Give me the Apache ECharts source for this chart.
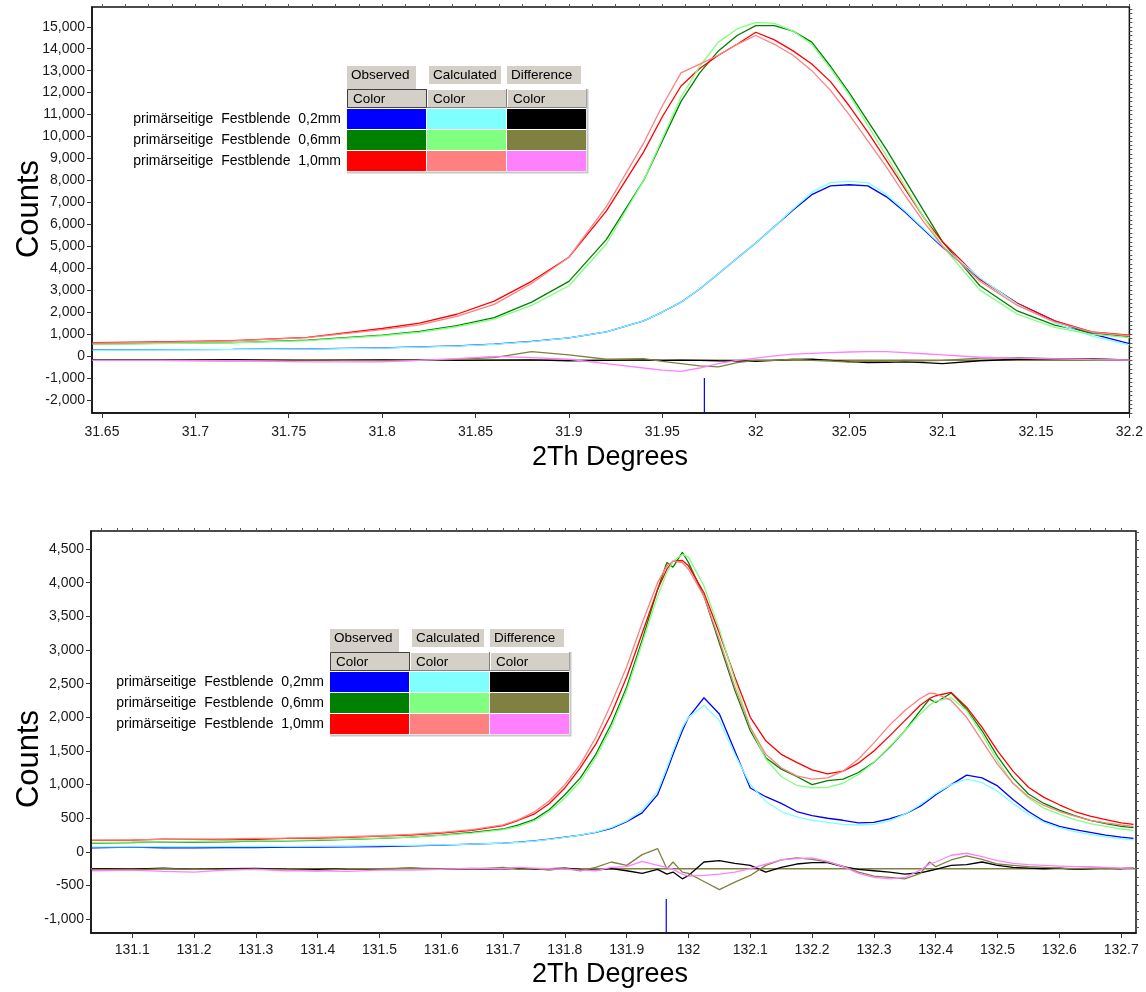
<!DOCTYPE html>
<html>
<head>
<meta charset="utf-8">
<script src="https://cdn.jsdelivr.net/npm/echarts@6/dist/echarts.min.js"></script>
<style>
  html, body { margin: 0; padding: 0; background: #ffffff; }
  #chart { width: 1146px; height: 992px; }
</style>
</head>
<body>
<div id="chart"></div>
<script>
// ---- legend table contents ----
const rowLabels = [
  'primärseitige  Festblende  0,2mm',
  'primärseitige  Festblende  0,6mm',
  'primärseitige  Festblende  1,0mm'
];
const columnHeaders = ['Observed', 'Calculated', 'Difference'];
const observedColors = ['#0000ff', '#008000', '#ff0000'];
const calculatedColors = ['#80ffff', '#80ff80', '#ff8080'];
const differenceColors = ['#000000', '#808040', '#ff80ff'];
const zeroLineColor = '#808040';
const peakMarkColor = '#0000ff';

// ---- upper panel: reflection near 32 deg 2Th ----
const topRange = { xMin: 31.6447, xMax: 32.2, yMin: -2600, yMax: 15900 };
const topXTicks = [31.65, 31.7, 31.75, 31.8, 31.85, 31.9, 31.95, 32, 32.05, 32.1, 32.15, 32.2];
const topYTicks = [-2000, -1000, 0, 1000, 2000, 3000, 4000, 5000, 6000, 7000, 8000, 9000, 10000, 11000, 12000, 13000, 14000, 15000];
const topX = [31.645, 31.68, 31.72, 31.76, 31.8, 31.82, 31.84, 31.86, 31.88, 31.9, 31.92, 31.94, 31.95, 31.96, 31.97, 31.98, 31.99, 32.0, 32.01, 32.02, 32.03, 32.04, 32.05, 32.06, 32.07, 32.08, 32.09, 32.1, 32.12, 32.14, 32.16, 32.18, 32.2];
const topObs02 = [280, 290, 300, 320, 370, 410, 460, 540, 660, 820, 1100, 1600, 2000, 2450, 3050, 3750, 4450, 5150, 5900, 6650, 7350, 7750, 7800, 7750, 7250, 6550, 5750, 4950, 3500, 2400, 1600, 1000, 560];
const topObs06 = [550, 570, 610, 720, 950, 1120, 1380, 1750, 2450, 3400, 5300, 8000, 9800, 11600, 12900, 13900, 14600, 15050, 15050, 14800, 14300, 13200, 12000, 10700, 9400, 8000, 6600, 5200, 3200, 2050, 1400, 1050, 880];
const topObs10 = [600, 640, 700, 850, 1250, 1500, 1900, 2500, 3400, 4500, 6600, 9300, 10900, 12300, 13100, 13700, 14200, 14750, 14400, 13900, 13300, 12500, 11400, 10200, 8900, 7600, 6300, 5200, 3500, 2400, 1600, 1100, 950];
const topCalc02 = [260, 270, 285, 310, 360, 400, 450, 530, 650, 820, 1100, 1600, 2000, 2450, 3050, 3750, 4450, 5150, 5900, 6700, 7450, 7900, 7950, 7900, 7350, 6600, 5800, 5000, 3550, 2350, 1500, 900, 500];
const topCalc06 = [540, 560, 600, 700, 920, 1080, 1330, 1680, 2300, 3200, 5100, 8000, 9900, 11800, 13200, 14300, 14900, 15200, 15150, 14800, 14200, 13100, 11900, 10500, 9100, 7700, 6300, 5000, 3000, 1900, 1300, 980, 830];
const topCalc10 = [580, 620, 690, 830, 1200, 1420, 1800, 2350, 3300, 4500, 6800, 9700, 11400, 12900, 13300, 13700, 14200, 14600, 14200, 13700, 13000, 12100, 11000, 9800, 8600, 7300, 6100, 5000, 3400, 2300, 1550, 1080, 920];
const topDiff02 = [-180, -180, -170, -190, -180, -190, -200, -190, -180, -220, -200, -180, -200, -190, -200, -220, -230, -250, -200, -160, -150, -200, -260, -300, -290, -270, -300, -350, -220, -150, -130, -140, -180];
const topDiff06 = [-200, -200, -220, -180, -220, -200, -150, -80, 200, 50, -150, -120, -250, -350, -450, -500, -300, -200, -200, -150, -200, -230, -280, -240, -250, -200, -220, -200, -100, -80, -120, -150, -180];
const topDiff10 = [-200, -200, -220, -270, -270, -200, -120, -20, -80, -150, -350, -550, -650, -700, -550, -350, -200, -100, 0, 80, 120, 150, 180, 200, 200, 150, 100, 50, -60, -100, -130, -170, -190];
const topZero = -200;
const topPeakPos = 31.9725;
const topPeakSpan = [-1000, -2600];

// ---- lower panel: doublet near 132 deg 2Th ----
const botRange = { xMin: 131.0333, xMax: 132.724, yMin: -1205, yMax: 4768 };
const botXTicks = [131.1, 131.2, 131.3, 131.4, 131.5, 131.6, 131.7, 131.8, 131.9, 132, 132.1, 132.2, 132.3, 132.4, 132.5, 132.6, 132.7];
const botYTicks = [-1000, -500, 0, 500, 1000, 1500, 2000, 2500, 3000, 3500, 4000, 4500];
const botX = [131.035, 131.1, 131.15, 131.2, 131.25, 131.3, 131.35, 131.4, 131.45, 131.5, 131.55, 131.6, 131.65, 131.7,
  131.725, 131.75, 131.775, 131.8, 131.825, 131.85, 131.875, 131.9, 131.925, 131.95,
  131.965, 131.975, 131.99, 132.0,
  132.025, 132.05, 132.075, 132.1, 132.125, 132.15, 132.175, 132.2, 132.225, 132.25, 132.275, 132.3, 132.325, 132.35, 132.375,
  132.39, 132.4,
  132.425, 132.45, 132.475, 132.5, 132.525, 132.55, 132.575, 132.6, 132.625, 132.65, 132.675, 132.7, 132.72];
const botObs02 = [60, 70, 60, 60, 65, 65, 70, 70, 75, 80, 90, 100, 115, 130,
  145, 165, 190, 220, 250, 290, 350, 450, 580, 850,
  1200, 1450, 1800, 2000,
  2290, 2050, 1500, 950, 820, 720, 600, 540, 500, 470, 430, 440, 490, 560, 680,
  780, 850,
  1000, 1140, 1100, 980, 780, 600, 460, 380, 330, 290, 250, 220, 200];
const botObs06 = [130, 140, 150, 145, 150, 160, 165, 170, 185, 200, 220, 250, 290, 340,
  400, 480, 630, 850, 1100, 1450, 1900, 2450, 3150, 3900,
  4300, 4230, 4450, 4300,
  3800, 3100, 2400, 1800, 1400, 1230, 1120, 1000, 1060, 1080, 1180, 1330, 1550, 1800, 2100,
  2270, 2220,
  2360, 2120, 1800, 1420, 1100, 860, 720, 620, 540, 470, 420, 380, 360];
const botObs10 = [170, 175, 190, 185, 180, 185, 200, 205, 215, 235, 250, 280, 320, 390,
  470, 560, 720, 950, 1250, 1600, 2050, 2600, 3250, 3900,
  4200, 4320, 4330, 4250,
  3850, 3250, 2600, 2000, 1650, 1450, 1330, 1220, 1160, 1200, 1320, 1500, 1720, 1950, 2180,
  2280, 2320,
  2370, 2150, 1850, 1500, 1200, 960, 810, 700, 600, 530, 480, 430, 410];
const botCalc02 = [75, 75, 78, 78, 80, 80, 82, 85, 88, 92, 98, 105, 115, 130,
  140, 160, 185, 215, 250, 295, 360, 460, 620, 900,
  1250, 1500, 1850, 2000,
  2180, 1950, 1450, 1000, 750, 600, 520, 470, 440, 410, 400, 410, 460, 560, 700,
  800, 870,
  1000, 1080, 1030, 900, 720, 560, 440, 360, 300, 260, 225, 195, 180];
const botCalc06 = [140, 145, 150, 155, 160, 165, 170, 180, 190, 205, 220, 245, 280, 330,
  380, 460, 600, 800, 1050, 1400, 1850, 2400, 3100, 3800,
  4150, 4320, 4420, 4380,
  3950, 3300, 2550, 1850, 1380, 1120, 990, 950, 960, 1020, 1150, 1330, 1560, 1800, 2050,
  2180, 2240,
  2290, 2100, 1750, 1350, 1020, 800, 650, 560, 480, 420, 380, 340, 320];
const botCalc10 = [175, 180, 185, 190, 195, 200, 205, 215, 225, 240, 260, 290, 330, 400,
  480, 590, 760, 1000, 1300, 1700, 2200, 2750, 3400, 4000,
  4250, 4320, 4300, 4200,
  3800, 3150, 2450, 1850, 1450, 1250, 1130, 1080, 1100, 1200, 1380, 1620, 1880, 2100, 2280,
  2360, 2350,
  2250, 2000, 1650, 1300, 1020, 820, 690, 600, 530, 470, 430, 400, 380];
const botDiff02 = [-250, -255, -240, -260, -250, -245, -255, -260, -250, -255, -240, -260, -250, -250,
  -240, -260, -250, -240, -260, -270, -250, -280, -320, -260,
  -330, -300, -400, -350,
  -150, -130, -170, -200, -300, -230, -180, -160, -160, -220, -260, -280, -300, -330, -310,
  -280, -260,
  -200, -190, -150, -200, -230, -240, -250, -240, -260, -250, -240, -250, -240];
const botDiff06 = [-260, -270, -250, -260, -260, -255, -265, -280, -250, -250, -240, -250, -255, -230,
  -260, -250, -270, -240, -280, -230, -150, -200, -40, 50,
  -250, -150, -300, -320,
  -440, -560, -450, -350, -200, -120, -90, -110, -150, -210, -300, -360, -380, -400, -320,
  -150, -220,
  -120, -60, -110, -180, -200, -220, -230, -240, -250, -240, -250, -245, -240];
const botDiff10 = [-280, -270, -290, -300, -270, -260, -280, -280, -290, -270, -270, -260, -240, -250,
  -230, -240, -250, -260, -270, -280, -230, -220, -140, -200,
  -230, -260, -330, -360,
  -350, -330, -300, -250, -180, -120, -100, -90, -140, -220, -320, -380, -400, -380, -270,
  -180, -150,
  -50, -20, -70, -130, -170, -190, -200, -210, -220, -220, -230, -240, -240];
const botZero = -250;
const botPeakPos = 131.964;
const botPeakSpan = [-700, -1205];

// ---- layout ----
const FONT = '"Liberation Sans", Arial, sans-serif';
const panels = [
  { grid: { left: 92, top: 7, width: 1040, height: 406 }, range: topRange, xTicks: topXTicks, yTicks: topYTicks,
    xMinorStep: 0.0125, yMinorStep: 200, x: topX, xLabelMargin: 12,
    obs: [topObs02, topObs06, topObs10], calc: [topCalc02, topCalc06, topCalc10], diff: [topDiff02, topDiff06, topDiff10],
    zero: topZero, peak: topPeakPos, peakSpan: topPeakSpan, table: { x: 347, y: 89 }, countsY: 209, degY: 458 },
  { grid: { left: 91, top: 531, width: 1045, height: 402 }, range: botRange, xTicks: botXTicks, yTicks: botYTicks,
    xMinorStep: 0.025, yMinorStep: 125, x: botX, xLabelMargin: 10,
    obs: [botObs02, botObs06, botObs10], calc: [botCalc02, botCalc06, botCalc10], diff: [botDiff02, botDiff06, botDiff10],
    zero: botZero, peak: botPeakPos, peakSpan: botPeakSpan, table: { x: 330, y: 652 }, countsY: 759, degY: 975 }
];

function minorValues(lo, hi, step) {
  const out = [];
  const start = Math.ceil(lo / step - 1e-9);
  for (let k = start; k * step <= hi + 1e-9; k++) out.push(+(k * step).toFixed(6));
  return out;
}
function fmtThousands(v) {
  const s = Math.abs(Math.round(v)).toString().replace(/\B(?=(\d{3})+(?!\d))/g, ',');
  return (v < 0 ? '-' : '') + s;
}
function fmtDeg(v) { return String(+v.toFixed(4)); }
function zip(xs, ys) { return xs.map((x, i) => [x, ys[i]]); }

const grids = [], xAxes = [], yAxes = [], series = [], graphics = [];

panels.forEach((p, gi) => {
  grids.push(Object.assign({ show: true, borderColor: '#111', borderWidth: 1.5, backgroundColor: 'transparent' }, p.grid));
  const r = p.range;
  // major x axis with labels
  xAxes.push({
    type: 'value', gridIndex: gi, min: r.xMin, max: r.xMax,
    axisLine: { show: true, onZero: false, lineStyle: { color: '#111', width: 1.5 } },
    axisTick: { show: true, customValues: p.xTicks, length: 5, lineStyle: { color: '#333' } },
    axisLabel: { customValues: p.xTicks, formatter: fmtDeg, fontFamily: FONT, fontSize: 14, color: '#1a1a1a', margin: p.xLabelMargin, hideOverlap: false },
    splitLine: { show: false }
  });
  // minor x ticks
  xAxes.push({
    type: 'value', gridIndex: gi, min: r.xMin, max: r.xMax,
    axisLine: { show: false, onZero: false },
    axisTick: { show: true, customValues: minorValues(r.xMin, r.xMax, p.xMinorStep), length: 3, lineStyle: { color: '#555' } },
    axisLabel: { show: false }, splitLine: { show: false }
  });
  yAxes.push({
    type: 'value', gridIndex: gi, min: r.yMin, max: r.yMax,
    axisLine: { show: true, onZero: false, lineStyle: { color: '#111', width: 1.5 } },
    axisTick: { show: true, customValues: p.yTicks, length: 5, lineStyle: { color: '#333' } },
    axisLabel: { customValues: p.yTicks, formatter: fmtThousands, fontFamily: FONT, fontSize: 14, color: '#1a1a1a', margin: 7 },
    splitLine: { show: false }
  });
  yAxes.push({
    type: 'value', gridIndex: gi, min: r.yMin, max: r.yMax,
    axisLine: { show: false, onZero: false },
    axisTick: { show: true, customValues: minorValues(r.yMin, r.yMax, p.yMinorStep), length: 3, lineStyle: { color: '#555' } },
    axisLabel: { show: false }, splitLine: { show: false }
  });

  const xi = gi * 2, yi = gi * 2;
  const line = (name, ys, color, width) => ({
    name, type: 'line', xAxisIndex: xi, yAxisIndex: yi, data: zip(p.x, ys),
    showSymbol: false, symbol: 'none', silent: true, animation: false,
    lineStyle: { color, width }, z: 2
  });
  p.obs.forEach((ys, k) => series.push(line('obs' + k, ys, observedColors[k], 1.3)));
  p.calc.forEach((ys, k) => series.push(line('calc' + k, ys, calculatedColors[k], 1.3)));
  series.push({
    name: 'zero', type: 'line', xAxisIndex: xi, yAxisIndex: yi,
    data: [[r.xMin, p.zero], [r.xMax, p.zero]],
    showSymbol: false, symbol: 'none', silent: true, animation: false,
    lineStyle: { color: zeroLineColor, width: 1.5 }, z: 2
  });
  p.diff.forEach((ys, k) => series.push(line('diff' + k, ys, differenceColors[k], 1.3)));
  // reflection position mark
  series.push({
    name: 'peak', type: 'line', xAxisIndex: xi, yAxisIndex: yi,
    data: [[p.peak, p.peakSpan[0]], [p.peak, p.peakSpan[1]]],
    showSymbol: false, symbol: 'none', silent: true, animation: false,
    lineStyle: { color: peakMarkColor, width: 1.2 }, z: 3
  });

  // axis titles
  graphics.push({
    type: 'text', x: 29, y: p.countsY, rotation: Math.PI / 2,
    style: { text: 'Counts', font: '31px ' + FONT, fill: '#000', textAlign: 'center', textVerticalAlign: 'middle' }
  });
  graphics.push({
    type: 'text', x: 610, y: p.degY,
    style: { text: '2Th Degrees', font: '27px ' + FONT, fill: '#000', textAlign: 'center', textVerticalAlign: 'middle' }
  });

  // legend table
  const ox = p.table.x, oy = p.table.y;
  const tabDx = [0, 82, 160], tabW = [69, 72, 74];
  columnHeaders.forEach((h, k) => {
    const active = k === 0;
    const ty = oy - 23, th = active ? 23 : 18;
    graphics.push({ type: 'rect', shape: { x: ox + tabDx[k], y: ty, width: tabW[k], height: th }, style: { fill: '#d4d0c8' } });
    graphics.push({ type: 'text', x: ox + tabDx[k] + 4, y: ty + 9,
      style: { text: h, font: '13.5px ' + FONT, fill: '#000', textAlign: 'left', textVerticalAlign: 'middle' } });
  });
  // "Color" header row
  for (let k = 0; k < 3; k++) {
    const cx = ox + k * 80, cy = oy;
    graphics.push({ type: 'rect', shape: { x: cx, y: cy, width: 80, height: 19 }, style: { fill: '#d4d0c8' } });
    graphics.push({ type: 'polyline', shape: { points: [[cx + 0.5, cy + 19], [cx + 0.5, cy + 0.5], [cx + 80, cy + 0.5]] }, style: { stroke: '#ffffff', lineWidth: 1, fill: null } });
    graphics.push({ type: 'polyline', shape: { points: [[cx + 79.5, cy], [cx + 79.5, cy + 18.5], [cx, cy + 18.5]] }, style: { stroke: '#808080', lineWidth: 1, fill: null } });
    graphics.push({ type: 'text', x: cx + 6, y: cy + 10,
      style: { text: 'Color', font: '13.5px ' + FONT, fill: '#000', textAlign: 'left', textVerticalAlign: 'middle' } });
  }
  graphics.push({ type: 'rect', shape: { x: ox + 0.5, y: oy + 0.5, width: 79, height: 18 }, style: { fill: null, stroke: '#404040', lineWidth: 1 } });
  // colour swatch rows
  const cols = [observedColors, calculatedColors, differenceColors];
  for (let rIdx = 0; rIdx < 3; rIdx++) {
    const ry = oy + 20 + rIdx * 21;
    for (let k = 0; k < 3; k++) {
      graphics.push({ type: 'rect', shape: { x: ox + k * 80, y: ry, width: 79, height: 20 }, style: { fill: cols[k][rIdx] } });
    }
    graphics.push({ type: 'text', x: ox - 6, y: ry + 10,
      style: { text: rowLabels[rIdx], font: '14px ' + FONT, fill: '#000', textAlign: 'right', textVerticalAlign: 'middle' } });
  }
  // table frame shading
  graphics.push({ type: 'polyline', shape: { points: [[ox + 240.5, oy], [ox + 240.5, oy + 83.5], [ox, oy + 83.5]] }, style: { stroke: '#c8c8c8', lineWidth: 2, fill: null } });
});

const chart = echarts.init(document.getElementById('chart'), null, { renderer: 'canvas' });
chart.setOption({
  animation: false,
  backgroundColor: '#ffffff',
  grid: grids,
  xAxis: xAxes,
  yAxis: yAxes,
  series: series,
  graphic: { elements: graphics.map(g => Object.assign({ z: 100 }, g)) }
});
</script>
</body>
</html>
